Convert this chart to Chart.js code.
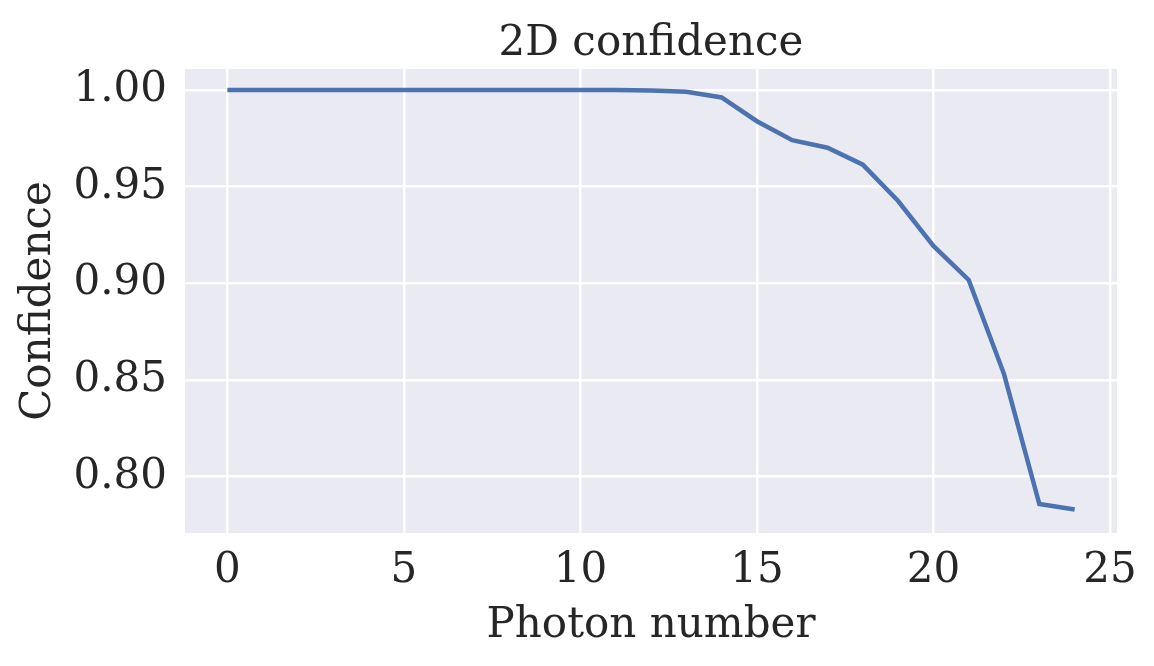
<!DOCTYPE html>
<html>
<head>
<meta charset="utf-8">
<script src="https://cdn.jsdelivr.net/npm/chart.js@4.4.1/dist/chart.umd.min.js"></script>
<style>
  html, body { margin: 0; padding: 0; background: #ffffff; }
  #wrap { width: 1154px; height: 666px; }
</style>
</head>
<body>
<div id="wrap"><canvas id="confchart" width="1154" height="666"></canvas></div>
<script>
// photon number vs 2D confidence
const photons = [0, 1, 2, 3, 4, 5, 6, 7, 8, 9, 10, 11, 12, 13, 14, 15, 16, 17, 18, 19, 20, 21, 22, 23, 24];
const confidence = [1.000, 1.000, 1.000, 1.000, 1.000, 1.000, 1.000, 1.000, 1.000, 1.000, 1.000, 1.000,
  0.9998, 0.9991, 0.9962, 0.9839, 0.9741, 0.9702, 0.9614, 0.9426, 0.9194, 0.9018, 0.8531, 0.7859, 0.7831];
const xTicks = [0, 5, 10, 15, 20, 25];
const yTicks = [0.80, 0.85, 0.90, 0.95, 1.00];
const chartTitle = '2D confidence';

const serif = "'DejaVu Serif', serif";
const ink = '#262626';
const fsize = 42;

// grey plot background + title centred over the plot area (like matplotlib)
const plotBg = {
  id: 'plotBg',
  beforeDraw(chart) {
    const a = chart.chartArea, c = chart.ctx;
    c.save();
    c.fillStyle = '#eaeaf2';
    c.fillRect(a.left, a.top, a.right - a.left, a.bottom - a.top);
    c.fillStyle = ink;
    c.font = fsize + 'px ' + serif;
    c.textAlign = 'center';
    c.textBaseline = 'alphabetic';
    c.fillText(chartTitle, (a.left + a.right) / 2, 55);
    c.restore();
  }
};

const ctx = document.getElementById('confchart').getContext('2d');
const confchart = new Chart(ctx, {
  type: 'line',
  data: {
    datasets: [{
      data: photons.map((p, i) => ({ x: p, y: confidence[i] })),
      borderColor: '#4c72b0',
      borderWidth: 4.5,
      pointRadius: 0,
      tension: 0,
      fill: false
    }]
  },
  options: {
    responsive: false,
    animation: false,
    layout: { padding: { left: 0, right: 37, top: 69, bottom: 0 } },
    plugins: {
      legend: { display: false },
      tooltip: { enabled: false },
      title: { display: false }
    },
    scales: {
      x: {
        type: 'linear',
        min: -1.2,
        max: 25.2,
        afterBuildTicks: s => { s.ticks = xTicks.map(v => ({ value: v })); },
        afterFit: s => { s.height = 133; },
        ticks: { color: ink, font: { family: serif, size: fsize }, padding: 13, maxRotation: 0 },
        grid: { color: '#ffffff', lineWidth: 2.5, drawTicks: false },
        border: { display: false },
        title: {
          display: true,
          text: 'Photon number',
          color: ink,
          font: { family: serif, size: fsize },
          padding: { top: 0, bottom: 15 }
        }
      },
      y: {
        type: 'linear',
        min: 0.7709,
        max: 1.0109,
        afterBuildTicks: s => { s.ticks = yTicks.map(v => ({ value: v })); },
        afterFit: s => { s.width = 185; },
        ticks: {
          color: ink,
          font: { family: serif, size: fsize },
          padding: 18,
          callback: v => v.toFixed(2)
        },
        grid: { color: '#ffffff', lineWidth: 2.5, drawTicks: false },
        border: { display: false },
        title: {
          display: true,
          text: 'Confidence',
          color: ink,
          font: { family: serif, size: fsize },
          padding: { top: 14, bottom: 0 }
        }
      }
    }
  },
  plugins: [plotBg]
});
</script>
</body>
</html>
